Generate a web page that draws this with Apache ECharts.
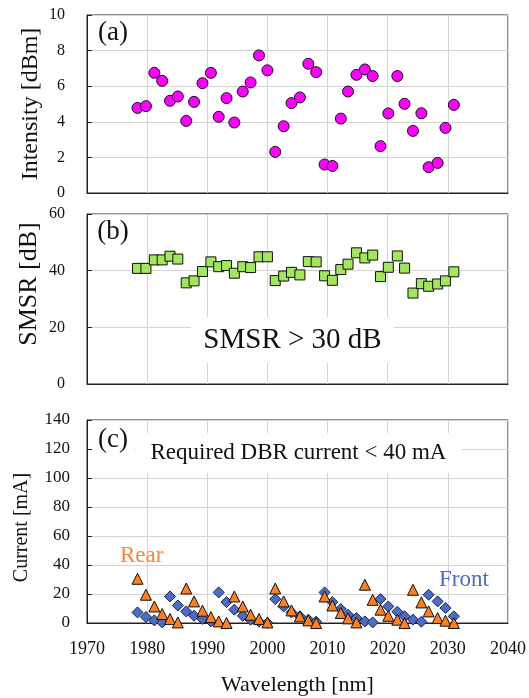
<!DOCTYPE html>
<html>
<head>
<meta charset="utf-8">
<script src="https://cdn.jsdelivr.net/npm/echarts@6/dist/echarts.min.js"></script>
<style>
  html, body { margin: 0; padding: 0; background: #fff; }
  #chart { width: 529px; height: 698px; }
</style>
</head>
<body>
<div id="chart"></div>
<script>
// Lasing wavelengths of the tuned channels [nm]
const wavelength = [
  1978.4, 1979.8, 1981.2, 1982.5, 1983.8, 1985.1, 1986.5, 1987.8, 1989.2, 1990.6,
  1991.9, 1993.2, 1994.5, 1995.9, 1997.2, 1998.6, 2000.0, 2001.3, 2002.7, 2004.0,
  2005.4, 2006.8, 2008.1, 2009.5, 2010.8, 2012.2, 2013.4, 2014.8, 2016.2, 2017.5,
  2018.8, 2020.1, 2021.6, 2022.8, 2024.2, 2025.6, 2026.8, 2028.3, 2029.6, 2031.0
];

// (a) output intensity [dBm]
const intensity = [
  4.78, 4.88, 6.75, 6.30, 5.18, 5.42, 4.05, 5.12, 6.17, 6.75,
  4.28, 5.33, 3.96, 5.70, 6.21, 7.73, 6.89, 2.31, 3.75, 5.05,
  5.37, 7.26, 6.79, 1.60, 1.52, 4.18, 5.70, 6.64, 6.94, 6.57,
  2.63, 4.47, 6.57, 5.01, 3.49, 4.48, 1.45, 1.69, 3.66, 4.95
];

// (b) side-mode suppression ratio [dB]
const smsr = [
  40.8, 40.8, 43.8, 43.8, 45.1, 44.1, 35.7, 36.4, 39.7, 43.1,
  41.4, 41.8, 39.1, 41.4, 41.1, 44.9, 44.9, 36.5, 38.1, 39.4,
  38.5, 43.2, 43.1, 38.2, 36.6, 40.4, 42.3, 46.3, 44.5, 45.5,
  37.9, 41.2, 45.2, 40.9, 32.1, 35.4, 34.5, 35.3, 36.4, 39.6
];

// (c) DBR tuning currents [mA]
const frontCurrent = [
  7.3, 4.1, 1.8, 0.4, 18.3, 12.1, 8.0, 5.0, 2.8, 1.1,
  21.1, 14.4, 9.2, 5.0, 2.3, 0.9, 0.0, 16.5, 11.4, 7.3,
  4.6, 2.3, 0.9, 21.1, 14.4, 9.6, 5.7, 3.4, 1.1, 0.4,
  16.5, 11.4, 7.8, 4.6, 2.3, 0.9, 19.5, 14.9, 10.3, 4.6
];
const rearCurrent = [
  30.5, 19.5, 11.4, 6.2, 2.8, 0.4, 23.8, 14.9, 8.5, 4.1,
  1.1, 0.0, 18.3, 11.4, 5.7, 2.8, 0.4, 23.8, 14.9, 8.7,
  4.6, 1.8, 0.0, 18.3, 12.1, 6.9, 3.2, 0.4, 26.4, 16.0,
  9.2, 5.0, 2.3, 0.0, 22.9, 14.2, 8.0, 3.4, 1.6, 0.0
];

// Axis ranges and tick spacing
const xRange = { min: 1970, max: 2040, interval: 10 };
const intensityRange = { min: 0, max: 10, interval: 2 };
const smsrRange = { min: 0, max: 60, interval: 20 };
const currentRange = { min: 0, max: 140, interval: 20 };

const pairs = ys => wavelength.map((w, i) => [w, ys[i]]);

const FONT = '"Liberation Serif", "Times New Roman", serif';
const gridLine = { show: true, lineStyle: { color: '#d4d4d4', width: 1 } };

function xAxis(idx, showLabels) {
  return {
    type: 'value', gridIndex: idx,
    min: xRange.min, max: xRange.max, interval: xRange.interval,
    axisLine: { show: true, onZero: false, lineStyle: { color: '#222' } },
    axisTick: { show: false },
    splitLine: gridLine,
    axisLabel: { show: showLabels, color: '#111', fontFamily: FONT, fontSize: 18, margin: 17,
                 formatter: v => String(v) },
    name: showLabels ? 'Wavelength [nm]' : '',
    nameLocation: 'middle', nameGap: 51,
    nameTextStyle: { color: '#111', fontFamily: FONT, fontSize: 22 }
  };
}

function yAxis(idx, range, opts) {
  return {
    type: 'value', gridIndex: idx,
    min: range.min, max: range.max, interval: range.interval,
    axisLine: { show: true, lineStyle: { color: '#222' } },
    axisTick: { show: true, inside: true, length: 5, lineStyle: { color: '#222' } },
    splitLine: gridLine,
    axisLabel: { color: '#111', fontFamily: FONT, fontSize: opts.labelSize, margin: opts.labelMargin },
    name: opts.name, nameLocation: 'middle', nameGap: opts.gap, nameMoveOverlap: false,
    nameTextStyle: { color: '#111', fontFamily: FONT, fontSize: opts.nameSize, padding: opts.pad || 0 }
  };
}

const gridBox = { show: true, borderColor: '#222', borderWidth: 1, backgroundColor: 'transparent' };

// White-backed annotation drawn over the gridlines
function boxedText(x, y, w, h, text, size, color) {
  return [
    { type: 'rect', z: 50, shape: { x: x, y: y, width: w, height: h }, style: { fill: '#fff' } },
    { type: 'text', z: 51, x: x + w / 2, y: y + h / 2,
      style: { text: text, fill: color || '#111', font: size + 'px ' + FONT, align: 'center', verticalAlign: 'middle' } }
  ];
}
function plainText(x, y, text, size, color) {
  return { type: 'text', z: 51, x: x, y: y,
    style: { text: text, fill: color, font: size + 'px ' + FONT, align: 'left', verticalAlign: 'middle' } };
}

const chart = echarts.init(document.getElementById('chart'), null, { renderer: 'canvas' });
chart.setOption({
  animation: false,
  backgroundColor: '#fff',
  grid: [
    Object.assign({ left: 87, right: 21, top: 15, height: 178 }, gridBox),
    Object.assign({ left: 87, right: 21, top: 214, height: 170 }, gridBox),
    Object.assign({ left: 87, right: 21, top: 420, height: 203 }, gridBox)
  ],
  xAxis: [xAxis(0, false), xAxis(1, false), xAxis(2, true)],
  yAxis: [
    yAxis(0, intensityRange, { name: 'Intensity [dBm]', gap: 44, nameSize: 24, labelSize: 16, labelMargin: 22 }),
    yAxis(1, smsrRange, { name: 'SMSR [dB]', gap: 45, nameSize: 26, labelSize: 16, labelMargin: 22, pad: [0, 0, 0, 30] }),
    yAxis(2, currentRange, { name: 'Current [mA]', gap: 55, nameSize: 20, labelSize: 17, labelMargin: 17, pad: [0, 12, 0, 0] })
  ],
  series: [
    {
      name: 'Intensity', type: 'scatter', xAxisIndex: 0, yAxisIndex: 0,
      data: pairs(intensity), symbol: 'circle', symbolSize: 11,
      itemStyle: { color: '#ff00ff', borderColor: '#111', borderWidth: 1, opacity: 1 }
    },
    {
      name: 'SMSR', type: 'scatter', xAxisIndex: 1, yAxisIndex: 1,
      data: pairs(smsr), symbol: 'rect', symbolSize: 10,
      itemStyle: { color: '#a2e65a', borderColor: '#111', borderWidth: 1, opacity: 1 }
    },
    {
      name: 'Front', type: 'scatter', xAxisIndex: 2, yAxisIndex: 2,
      data: pairs(frontCurrent), symbol: 'diamond', symbolSize: 11,
      itemStyle: { color: '#4a6ccb', borderColor: '#1b2444', borderWidth: 1, opacity: 1 }
    },
    {
      name: 'Rear', type: 'scatter', xAxisIndex: 2, yAxisIndex: 2,
      data: pairs(rearCurrent), symbol: 'triangle', symbolSize: 11,
      itemStyle: { color: '#ff7f1e', borderColor: '#111', borderWidth: 1, opacity: 1 }
    }
  ],
  graphic: [].concat(
    boxedText(92, 18, 42, 30, '(a)', 27),
    boxedText(92, 217, 42, 30, '(b)', 27),
    boxedText(92, 425, 42, 30, '(c)', 27),
    boxedText(191, 317, 203, 46, 'SMSR > 30 dB', 29),
    boxedText(135, 433, 327, 40, 'Required DBR current < 40 mA', 23),
    [plainText(120, 556, 'Rear', 23, '#f5883a'),
     plainText(439, 580, 'Front', 23, '#4a6ccb')]
  )
});
</script>
</body>
</html>
